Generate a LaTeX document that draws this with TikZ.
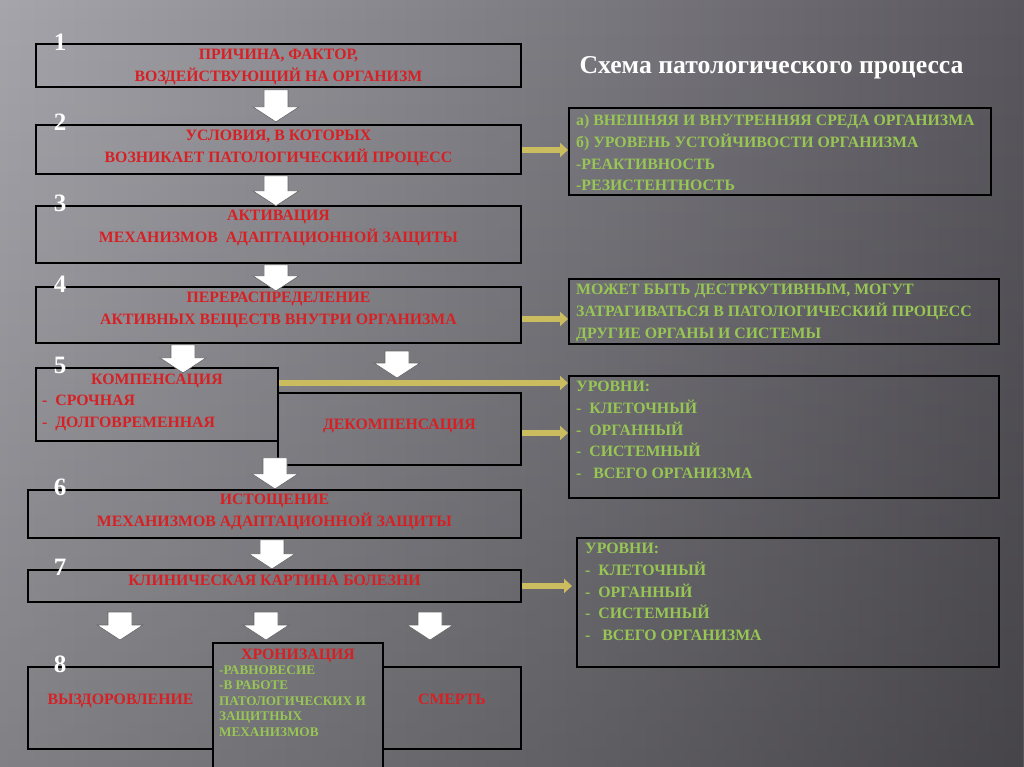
\documentclass[tikz,border=0pt]{standalone}
\usepackage{fontspec}
\setmainfont{Liberation Serif}
\usetikzlibrary{arrows.meta,calc,fadings}
\definecolor{txtred}{RGB}{215,32,36}
\definecolor{txtgreen}{RGB}{152,198,84}
\definecolor{yarr}{RGB}{203,188,95}
\definecolor{bgl}{RGB}{165,165,171}
\definecolor{bgm}{RGB}{124,122,128}
\definecolor{bgr}{RGB}{90,88,94}
\tikzfading[name=fadedown, top color=transparent!100, bottom color=transparent!0]
\newcommand\firststrut{\rule{0pt}{13.7pt}}
\newcommand\smallstrut{\rule{0pt}{11.6pt}}
\begin{document}
\begin{tikzpicture}[x=1pt,y=-1pt,
 box/.style={draw=black,line width=1.9pt,inner sep=0pt,anchor=north west},
 redtxt/.style={text=txtred,font=\fontsize{15.8}{22}\selectfont\bfseries,align=center,inner sep=0pt,anchor=north},
 grtxt/.style={text=txtgreen,font=\fontsize{15.8}{21.6}\selectfont\bfseries,align=left,inner sep=0pt,anchor=north west},
 smgr/.style={text=txtgreen,font=\fontsize{13.2}{15.5}\selectfont\bfseries,align=left,inner sep=0pt,anchor=north west},
 num/.style={text=white,font=\fontsize{25}{25}\selectfont\bfseries,inner sep=0pt},
 yarrow/.style={draw=yarr,line width=6pt,-{Triangle[length=8pt,width=14pt]}},
 warrow/.style={fill=white,draw=black!60,line width=0.6pt},
 pics/blk/.style={code={\draw[warrow] (-12,0) -- (12,0) -- (12,#1-15) -- (23,#1-15) -- (0,#1) -- (-23,#1-15) -- (-12,#1-15) -- cycle;}}
]
\useasboundingbox (0,0) rectangle (1024,767);
\clip (0,0) rectangle (1024,767);
\shade[left color=bgl, middle color=bgm, right color=bgr] (0,0) rectangle (1024,767);
\fill[black, path fading=fadedown, fill opacity=0.22] (0,0) rectangle (1024,767);

% title
\node[text=white,font=\fontsize{25.7}{26}\selectfont\bfseries,inner sep=0pt,anchor=base] (title) at (771.5,73.5) {Схема патологического процесса};

% main boxes
\node[box,minimum width=485pt,minimum height=43pt] (b1) at (35,43) {};
\node[box,minimum width=485pt,minimum height=49pt] (b2) at (35,124) {};
\node[box,minimum width=485pt,minimum height=57pt] (b3) at (35,205) {};
\node[box,minimum width=485pt,minimum height=56pt] (b4) at (35,286) {};
\node[box,minimum width=243pt,minimum height=72pt] (b5r) at (277,392) {};
\node[box,minimum width=242pt,minimum height=73pt] (b5l) at (35,367) {};
\node[box,minimum width=493pt,minimum height=48pt] (b6) at (27,489) {};
\node[box,minimum width=493pt,minimum height=32pt] (b7) at (27,569) {};
\node[box,minimum width=185pt,minimum height=82pt] (b8l) at (27,666) {};
\node[box,minimum width=138pt,minimum height=82pt] (b8r) at (382,666) {};
\node[box,minimum width=170pt,minimum height=140pt] (b8c) at (212,642) {};

% right boxes
\node[box,minimum width=422pt,minimum height=87pt] (r1) at (568,107) {};
\node[box,minimum width=430pt,minimum height=65pt] (r2) at (568,278) {};
\node[box,minimum width=430pt,minimum height=122pt] (r3) at (568,375) {};
\node[box,minimum width=422pt,minimum height=129pt] (r4) at (576,537) {};

% numbers
\node[num] (n1) at (60,42) {1};
\node[num] (n2) at (60,122) {2};
\node[num] (n3) at (60,203) {3};
\node[num] (n4) at (60,284) {4};
\node[num] (n5) at (60,365) {5};
\node[num] (n6) at (60,487) {6};
\node[num] (n7) at (60,567) {7};
\node[num] (n8) at (60,664) {8};

% red texts
\node[redtxt] (t1) at ([yshift=-3pt]b1.north) {\firststrut ПРИЧИНА, ФАКТОР,\\ВОЗДЕЙСТВУЮЩИЙ НА ОРГАНИЗМ};
\node[redtxt] (t2) at ([yshift=-3pt]b2.north) {\firststrut УСЛОВИЯ, В КОТОРЫХ\\ВОЗНИКАЕТ ПАТОЛОГИЧЕСКИЙ ПРОЦЕСС};
\node[redtxt] (t3) at ([yshift=-2pt]b3.north) {\firststrut АКТИВАЦИЯ\\МЕХАНИЗМОВ\ \ АДАПТАЦИОННОЙ ЗАЩИТЫ};
\node[redtxt] (t4) at ([yshift=-3pt]b4.north) {\firststrut ПЕРЕРАСПРЕДЕЛЕНИЕ\\АКТИВНЫХ ВЕЩЕСТВ ВНУТРИ ОРГАНИЗМА};
\node[redtxt] (t5a) at ([yshift=-4pt]b5l.north) {\firststrut КОМПЕНСАЦИЯ};
\node[redtxt,align=left,anchor=north west] (t5b) at (42,392) {\firststrut -\ \ СРОЧНАЯ\\-\ \ ДОЛГОВРЕМЕННАЯ};
\node[redtxt] (t5r) at ([yshift=-24pt]b5r.north) {\firststrut ДЕКОМПЕНСАЦИЯ};
\node[redtxt] (t6) at ([yshift=-2pt]b6.north) {\firststrut ИСТОЩЕНИЕ\\МЕХАНИЗМОВ АДАПТАЦИОННОЙ ЗАЩИТЫ};
\node[redtxt] (t7) at ([yshift=-3pt]b7.north) {\firststrut КЛИНИЧЕСКАЯ КАРТИНА БОЛЕЗНИ};
\node[redtxt] (t8l) at ([yshift=-25pt]b8l.north) {\firststrut ВЫЗДОРОВЛЕНИЕ};
\node[redtxt] (t8r) at ([yshift=-25pt]b8r.north) {\firststrut СМЕРТЬ};
\node[redtxt] (t8c) at ([yshift=-4pt]b8c.north) {\firststrut ХРОНИЗАЦИЯ};
\node[smgr] (t8g) at (219,662.5) {\smallstrut -РАВНОВЕСИЕ\\-В РАБОТЕ\\ПАТОЛОГИЧЕСКИХ И\\ЗАЩИТНЫХ\\МЕХАНИЗМОВ};

% green texts
\node[grtxt] (g1) at (576,112) {\firststrut а) ВНЕШНЯЯ И ВНУТРЕННЯЯ СРЕДА ОРГАНИЗМА\\б) УРОВЕНЬ УСТОЙЧИВОСТИ ОРГАНИЗМА\\-РЕАКТИВНОСТЬ\\-РЕЗИСТЕНТНОСТЬ};
\node[grtxt] (g2) at (576,281) {\firststrut МОЖЕТ БЫТЬ ДЕСТРКУТИВНЫМ, МОГУТ\\ЗАТРАГИВАТЬСЯ В ПАТОЛОГИЧЕСКИЙ ПРОЦЕСС\\ДРУГИЕ ОРГАНЫ И СИСТЕМЫ};
\node[grtxt] (g3) at (576,378) {\firststrut УРОВНИ:\\-\ \ КЛЕТОЧНЫЙ\\-\ \ ОРГАННЫЙ\\-\ \ СИСТЕМНЫЙ\\-\ \ \ ВСЕГО ОРГАНИЗМА};
\node[grtxt] (g4) at (585,540) {\firststrut УРОВНИ:\\-\ \ КЛЕТОЧНЫЙ\\-\ \ ОРГАННЫЙ\\-\ \ СИСТЕМНЫЙ\\-\ \ \ ВСЕГО ОРГАНИЗМА};

% white block arrows
\pic at ([xshift=-2.5pt,yshift=-2pt]b1.south) {blk=32};
\pic at ([xshift=-2.5pt,yshift=-1pt]b2.south) {blk=30};
\pic at ([xshift=-2.5pt,yshift=-1pt]b3.south) {blk=26};
\pic at ([yshift=-1pt]b4.south -| 183,0) {blk=28};
\pic at (397,351) {blk=27};
\pic at ([yshift=8pt]b5r.south -| 275,0) {blk=31};
\pic at ([xshift=-2.5pt,yshift=-1pt]b6.south) {blk=29};
\pic at (120,612) {blk=28};
\pic at (266,612) {blk=28};
\pic at (430,612) {blk=28};

% yellow arrows
\path ([yshift=-0.5pt]b2.east) coordinate (y1s);
\path ([yshift=-4pt]b4.east) coordinate (y2s);
\path ([yshift=-16pt]b5l.north east) coordinate (y3s);
\path ([yshift=-4pt]b5r.east) coordinate (y4s);
\path (b7.east) coordinate (y5s);
\draw[yarrow] (y1s) -- (y1s -| r1.west);
\draw[yarrow] (y2s) -- (y2s -| r2.west);
\draw[yarrow] (y3s) -- (y3s -| r3.west);
\draw[yarrow] (y4s) -- (y4s -| r3.west);
\draw[yarrow] (y5s) -- ([xshift=-4pt]y5s -| r4.west);
\end{tikzpicture}
\end{document}
